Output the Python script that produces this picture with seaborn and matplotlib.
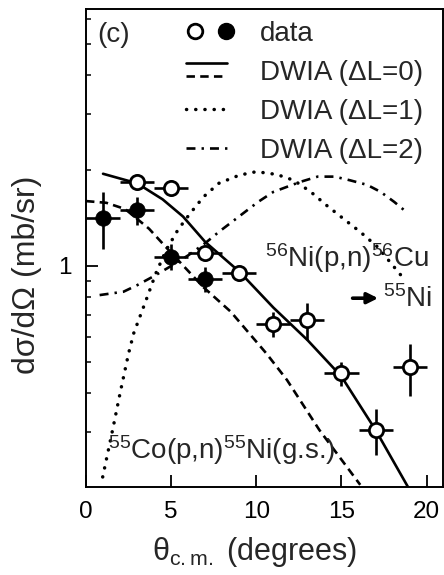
import matplotlib
matplotlib.use("Agg")
import matplotlib.pyplot as plt
import seaborn as sns
from matplotlib.lines import Line2D
from matplotlib.legend_handler import HandlerBase

# ---------------- data ----------------
theta_open = [3, 5, 7, 9, 11, 13, 15, 17, 19]
xs_open = [1.84, 1.76, 1.10, 0.95, 0.657, 0.675, 0.46, 0.305, 0.48]
yerr_open = [0.08, 0.05, 0.05, 0.05, 0.06, 0.09, 0.04, 0.05, 0.09]
xerr_open = [1, 1, 1, 1, 1, 1, 1, 1, 1]

theta_filled = [1, 3, 5, 7]
xs_filled = [1.42, 1.50, 1.07, 0.91]
yerr_filled = [0.29, 0.15, 0.10, 0.08]
xerr_filled = [1, 1, 1, 1]

# DWIA dL=0 for 56Ni(p,n)56Cu (solid)
l0_ni_x = [1.0, 3.0, 4.5, 5.7, 7.0, 9.0, 11.0, 13.0, 15.0, 17.0, 18.9]
l0_ni_y = [1.95, 1.82, 1.62, 1.43, 1.19, 0.96, 0.74, 0.585, 0.449, 0.305, 0.202]

# DWIA dL=0 for 55Co(p,n)55Ni (dashed)
l0_co_x = [0.0, 1.2, 2.3, 3.7, 5.0, 6.9, 8.5, 10.6, 11.8, 13.7, 16.1]
l0_co_y = [1.60, 1.58, 1.51, 1.31, 1.10, 0.857, 0.718, 0.53, 0.438, 0.305, 0.205]

# DWIA dL=1 (dotted)
l1_x = [0.98, 1.6, 2.0, 2.5, 2.8, 3.6, 4.1, 4.7, 5.4, 6.1, 6.9, 7.8, 9.0, 10.0,
        11.2, 12.2, 13.2, 14.1, 15.1, 16.1, 17.1, 17.65, 18.6]
l1_y = [0.217, 0.312, 0.398, 0.531, 0.614, 0.80, 0.948, 1.12, 1.30, 1.46, 1.65, 1.82,
        1.93, 1.98, 1.94, 1.86, 1.71, 1.555, 1.41, 1.28, 1.15, 1.06, 0.92]

# DWIA dL=2 (dash-dot)
l2_x = [0.8, 2.2, 3.0, 4.0, 5.0, 6.0, 7.0, 7.8, 8.6, 10.1, 11.0, 12.6, 13.6,
        14.6, 15.5, 16.5, 17.3, 18.1, 18.8]
l2_y = [0.81, 0.83, 0.87, 0.93, 1.0, 1.08, 1.18, 1.28, 1.38, 1.59, 1.71, 1.84,
        1.91, 1.91, 1.86, 1.80, 1.71, 1.59, 1.48]

x_ticks = [0, 5, 10, 15, 20]
y_major = [1]
y_major_labels = ["1"]
y_minor = [0.3, 0.4, 0.5, 0.6, 0.7, 0.8, 0.9, 2, 3, 4, 5, 6]

# ---------------- style ----------------
sns.set_theme(style="ticks")
plt.rcParams["font.family"] = ["Liberation Sans", "DejaVu Sans"]
plt.rcParams["mathtext.fontset"] = "custom"
plt.rcParams["mathtext.rm"] = "Liberation Sans"
plt.rcParams["mathtext.it"] = "Liberation Sans:italic"
plt.rcParams["mathtext.bf"] = "Liberation Sans:bold"
plt.rcParams["mathtext.default"] = "regular"

LW = 1.9
DASH = (0, (3.2, 2.0))
DOT_LW = 2.5
DOT = (0, (0.05, 2.6))
DASHDOT = (0, (3.4, 2.3, 0.9, 2.3))

fig = plt.figure(figsize=(4.44, 5.75), dpi=100)
ax = fig.add_axes([86 / 444, 88 / 575, 357 / 444, 478 / 575])
ax.set_yscale("log")

sns.lineplot(x=l0_ni_x, y=l0_ni_y, ax=ax, color="black", lw=LW, sort=False, zorder=2)
sns.lineplot(x=l0_co_x, y=l0_co_y, ax=ax, color="black", lw=LW, linestyle=DASH, sort=False, zorder=2)
sns.lineplot(x=l1_x, y=l1_y, ax=ax, color="black", lw=DOT_LW, linestyle=DOT,
             dash_capstyle="round", sort=False, zorder=2)
sns.lineplot(x=l2_x, y=l2_y, ax=ax, color="black", lw=LW, linestyle=DASHDOT, sort=False, zorder=2)

ax.errorbar(theta_open, xs_open, xerr=xerr_open, yerr=yerr_open, fmt="none",
            ecolor="black", elinewidth=1.9, capsize=0, zorder=3)
ax.errorbar(theta_filled, xs_filled, xerr=xerr_filled, yerr=yerr_filled, fmt="none",
            ecolor="black", elinewidth=1.9, capsize=0, zorder=3)
sns.scatterplot(x=theta_open, y=xs_open, ax=ax, marker="o", s=105, facecolor="white",
                edgecolor="black", linewidth=2.0, zorder=4)
sns.scatterplot(x=theta_filled, y=xs_filled, ax=ax, marker="o", s=125, facecolor="black",
                edgecolor="black", linewidth=0.5, zorder=4)

ax.set_xlim(0, 20.96)
ax.set_ylim(0.2018, 6.43)
ax.set_xticks(x_ticks)
ax.set_xticklabels([str(t) for t in x_ticks])
ax.set_yticks(y_major)
ax.set_yticklabels(y_major_labels)
ax.set_yticks(y_minor, minor=True)
ax.yaxis.set_minor_formatter(plt.NullFormatter())
ax.xaxis.set_minor_locator(plt.NullLocator())

ax.tick_params(axis="both", which="major", direction="in", length=8.6, width=1.3,
               labelsize=17.5, pad=10, colors="black")
ax.tick_params(axis="y", which="minor", direction="in", length=3.8, width=1.3)
ax.tick_params(top=False, right=False, which="both")
for sp in ax.spines.values():
    sp.set_linewidth(1.4)
    sp.set_color("black")
    sp.set_visible(True)

ax.set_xlabel("θ$_{c.m.}$ (degrees)", fontsize=22)
ax.set_ylabel("dσ/dΩ (mb/sr)", fontsize=23)
ax.xaxis.set_label_coords(0.473, -0.100)
ax.yaxis.set_label_coords(-0.123, 0.443)


# ---------------- legend ----------------
class DataHandler(HandlerBase):
    def create_artists(self, legend, orig_handle, xdescent, ydescent, width, height, fontsize, trans):
        y = height / 2 - ydescent
        x0 = -xdescent
        a = Line2D([x0 + 0.22 * width], [y], marker="o", markersize=10.5, markerfacecolor="white",
                   markeredgecolor="black", markeredgewidth=2.0, linestyle="none")
        b = Line2D([x0 + 0.98 * width], [y], marker="o", markersize=11.5, markerfacecolor="black",
                   markeredgecolor="black", linestyle="none")
        a.set_transform(trans)
        b.set_transform(trans)
        return [a, b]


class TwoLineHandler(HandlerBase):
    def create_artists(self, legend, orig_handle, xdescent, ydescent, width, height, fontsize, trans):
        x0 = -xdescent
        yc = height / 2 - ydescent
        a = Line2D([x0, x0 + width], [yc + 0.26 * fontsize] * 2, color="black", lw=LW)
        b = Line2D([x0, x0 + width], [yc - 0.2 * fontsize] * 2, color="black", lw=LW, linestyle=DASH)
        a.set_transform(trans)
        b.set_transform(trans)
        return [a, b]


h_data = object()
h_l0 = object()
h_l1 = Line2D([], [], color="black", lw=DOT_LW, linestyle=DOT, dash_capstyle="round")
h_l2 = Line2D([], [], color="black", lw=LW, linestyle=DASHDOT)
leg = ax.legend([h_data, h_l0, h_l1, h_l2],
                ["data", "DWIA (ΔL=0)", "DWIA (ΔL=1)", "DWIA (ΔL=2)"],
                handler_map={h_data: DataHandler(), h_l0: TwoLineHandler()},
                loc="upper left", bbox_to_anchor=(0.28, 0.975), frameon=False,
                fontsize=20, handlelength=1.47, handletextpad=1.2, labelspacing=0.47,
                borderpad=0, borderaxespad=0)

# ---------------- annotations ----------------
ax.text(0.031, 0.973, "(c)", transform=ax.transAxes, fontsize=20, va="top", ha="left")
ax.text(0.501, 0.460, "$^{56}$Ni(p,n)$^{56}$Cu", transform=ax.transAxes, fontsize=20,
        va="baseline", ha="left")
ax.annotate("", xy=(0.826, 0.395), xytext=(0.739, 0.395), xycoords="axes fraction",
            arrowprops=dict(arrowstyle="-|>", color="black", lw=2.6, mutation_scale=16))
ax.text(0.832, 0.377, "$^{55}$Ni", transform=ax.transAxes, fontsize=20,
        va="baseline", ha="left")
ax.text(0.062, 0.058, "$^{55}$Co(p,n)$^{55}$Ni(g.s.)", transform=ax.transAxes, fontsize=20,
        va="baseline", ha="left")

fig.savefig("out.png", dpi=100)
